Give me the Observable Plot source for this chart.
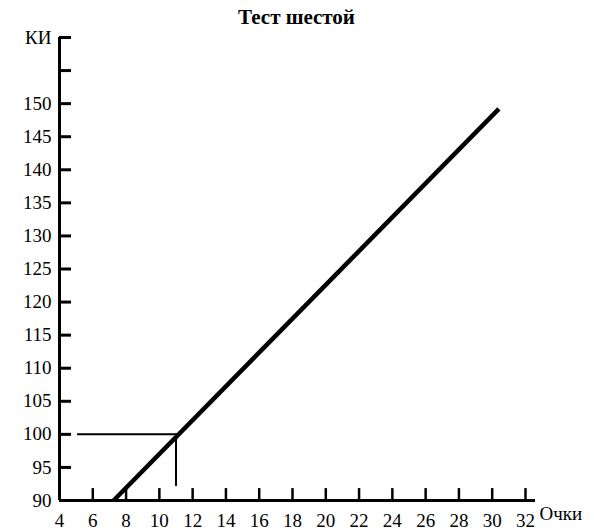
<!DOCTYPE html>
<html>
<head>
<meta charset="utf-8">
<script src="https://cdn.jsdelivr.net/npm/d3@7"></script>
<script src="https://cdn.jsdelivr.net/npm/@observablehq/plot@0.6"></script>
<style>
  html, body { margin: 0; padding: 0; background: #fff; }
</style>
</head>
<body>
<div id="chart"></div>
<script>
const titleText = "Тест шестой";
const xAxisLabel = "Очки";
const xTicks = [4, 6, 8, 10, 12, 14, 16, 18, 20, 22, 24, 26, 28, 30, 32];
const yTicks = [90, 95, 100, 105, 110, 115, 120, 125, 130, 135, 140, 145, 150, 155, 160];
const yTickLabels = ["90", "95", "100", "105", "110", "115", "120", "125", "130", "135", "140", "145", "150", "", "КИ"];
// main conversion line (score -> IQ)
const lineX = [7.25, 30.4];
const lineY = [90, 149.2];
// guide lines: 100 IQ at 11 points
const guideHX = [5.1, 11];
const guideHY = [100, 100];
const guideVX = [11, 11];
const guideVY = [100, 92.3];

const font = "Liberation Serif, Times New Roman, serif";
const labelMap = new Map(yTicks.map((t, i) => [t, yTickLabels[i]]));

const chart = Plot.plot({
  width: 594,
  height: 530,
  marginLeft: 59,
  marginRight: 69,
  marginTop: 37,
  marginBottom: 30,
  style: { fontFamily: font, fontSize: "19px", color: "#000", background: "#fff" },
  x: { domain: [4, 32], label: null },
  y: { domain: [90, 160], label: null },
  marks: [
    Plot.axisY(yTicks, { tickSize: 0, tickPadding: 8, tickFormat: d => labelMap.get(d), fontSize: 19, label: null }),
    Plot.axisX(xTicks, { tickSize: 0, tickPadding: 13, tickFormat: d => String(d), fontSize: 19, label: null }),
    // inward tick marks
    Plot.ruleY(yTicks, { y: d => d, x1: 4, x2: 4.72, stroke: "#000", strokeWidth: 3 }),
    Plot.ruleX(xTicks.slice(1), { x: d => d, y1: 90, y2: 91.8, stroke: "#000", strokeWidth: 2.5 }),
    // axis lines
    Plot.ruleX([4], { y1: 90, y2: 160, stroke: "#000", strokeWidth: 3 }),
    Plot.ruleY([90], { x1: 4, x2: 32.6, stroke: "#000", strokeWidth: 3 }),
    // guides
    Plot.line(guideHX.map((x, i) => ({ x, y: guideHY[i] })), { x: "x", y: "y", stroke: "#000", strokeWidth: 2 }),
    Plot.line(guideVX.map((x, i) => ({ x, y: guideVY[i] })), { x: "x", y: "y", stroke: "#000", strokeWidth: 2 }),
    // main line
    Plot.line(lineX.map((x, i) => ({ x, y: lineY[i] })), { x: "x", y: "y", stroke: "#000", strokeWidth: 4.5, strokeLinecap: "butt" }),
    // x axis label
    Plot.text([xAxisLabel], { x: 32.6, y: 90, dx: 4, dy: 13, text: d => d, textAnchor: "start", fontSize: 19, fill: "#000" }),
    // title
    Plot.text([titleText], { frameAnchor: "top", dx: 4, dy: -14, lineAnchor: "bottom", text: d => d, fontSize: 21, fontWeight: "bold", fill: "#000" })
  ]
});
document.getElementById("chart").appendChild(chart);
</script>
</body>
</html>
